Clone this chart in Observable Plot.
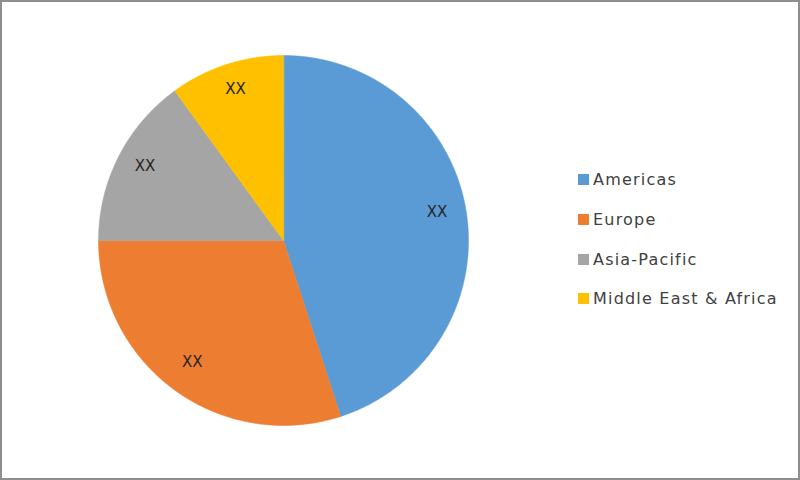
<!DOCTYPE html>
<html>
<head>
<meta charset="utf-8">
<script src="https://cdn.jsdelivr.net/npm/d3@7"></script>
<script src="https://cdn.jsdelivr.net/npm/@observablehq/plot@0.6"></script>
<style>
  html, body { margin: 0; padding: 0; background: #fff; }
  #wrap { position: relative; width: 800px; height: 480px; overflow: hidden; }
  #wrap > svg { position: absolute; left: 0; top: 0; }
  #border { position: absolute; left: 0; top: 0; width: 800px; height: 480px; box-sizing: border-box;
            border: 2px solid #8e8e8e; pointer-events: none; }
  #legend { position: absolute; left: 578px; top: 160px; }
  .lg-swatches-columns { columns: 1 !important; margin: 0 !important; font-family: "DejaVu Sans", sans-serif !important; font-size: 16px !important; letter-spacing: 1.2px; color: #404040 !important; }
  .lg-swatch { height: 39.7px; padding-bottom: 0 !important; }
  .lg-swatch svg { margin-right: 4px !important; }
</style>
</head>
<body>
<div id="wrap"><div id="legend"></div><div id="border"></div></div>
<script>
const regions = ["Americas", "Europe", "Asia-Pacific", "Middle East & Africa"];
const shares = [45, 30, 15, 10];
const labels = ["XX", "XX", "XX", "XX"];
const colors = ["#5B9BD5", "#ED7D31", "#A5A5A5", "#FFC000"];

const table = regions.map((r, i) => ({region: r, value: shares[i], label: labels[i]}));
const arcs = d3.pie().sort(null).value(d => d.value).startAngle(0).endAngle(2 * Math.PI)(table);

// polygon points for each slice (angle measured clockwise from 12 o'clock)
const pts = [];
for (const a of arcs) {
  pts.push({region: a.data.region, x: 0, y: 0});
  const n = Math.max(2, Math.ceil((a.endAngle - a.startAngle) / (Math.PI / 360)));
  for (let k = 0; k <= n; k++) {
    const t = a.startAngle + (a.endAngle - a.startAngle) * k / n;
    pts.push({region: a.data.region, x: Math.sin(t), y: Math.cos(t)});
  }
}
const labelR = 0.84;
const labelPts = arcs.map(a => {
  const m = (a.startAngle + a.endAngle) / 2;
  return {label: a.data.label, x: labelR * Math.sin(m), y: labelR * Math.cos(m)};
});

const colorSpec = {domain: regions, range: colors};

const chart = Plot.plot({
  width: 800,
  height: 480,
  marginLeft: 98,
  marginRight: 332,
  marginTop: 55,
  marginBottom: 55,
  x: {domain: [-1, 1], axis: null},
  y: {domain: [-1, 1], axis: null},
  color: colorSpec,
  style: {background: "transparent", fontFamily: "DejaVu Sans, sans-serif"},
  marks: [
    Plot.line(pts, {x: "x", y: "y", z: "region", fill: "region", stroke: "region", strokeWidth: 0.5, curve: "linear-closed"}),
    Plot.text(labelPts, {x: "x", y: "y", text: "label", fontSize: 15, dy: -4, fill: "#262626", style: "letter-spacing: 1px"})
  ]
});
document.getElementById("wrap").prepend(chart);

const legend = Plot.legend({
  color: colorSpec,
  legend: "swatches",
  columns: 1,
  swatchSize: 11,
  className: "lg"
});
document.getElementById("legend").appendChild(legend);
</script>
</body>
</html>
